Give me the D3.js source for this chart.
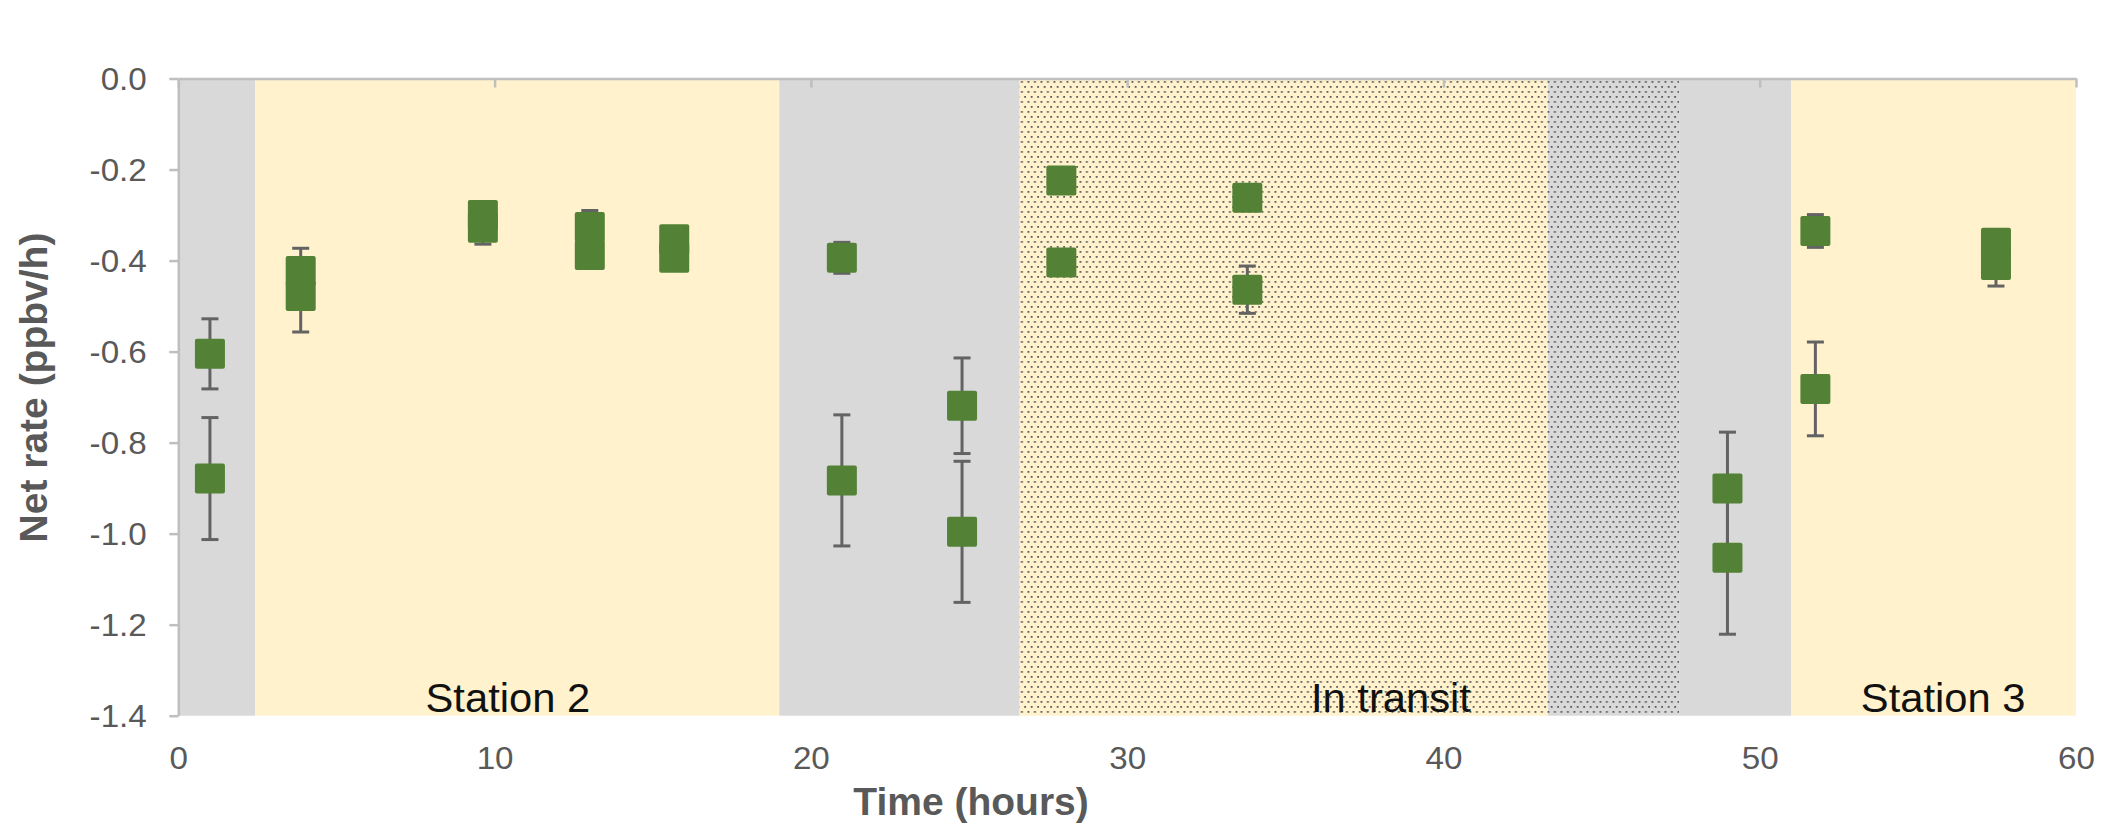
<!DOCTYPE html>
<html>
<head>
<meta charset="utf-8">
<script src="https://cdn.jsdelivr.net/npm/d3@7"></script>
<style>
    html, body { margin: 0; padding: 0; background: #ffffff; }
    svg text { font-family: "Liberation Sans", Arial, sans-serif; }
</style>
</head>
<body>
<div id="chart"></div>
<script>
// Shaded periods along the time axis (hours)
let bandStart = [0, 2.43, 19.0, 26.6, 43.3, 47.45, 51.0];
let bandEnd = [2.43, 19.0, 26.6, 43.3, 47.45, 51.0, 60];
let bandKind = ['gray', 'yellow', 'gray', 'yellowDots', 'grayDots', 'gray', 'yellow'];

let bandLabels = ['Station 2', 'In transit', 'Station 3'];
let bandLabelAt = [10.42, 38.34, 55.8];

// Measured net rates with their error bars
let times = [1.0, 1.0, 3.87, 3.87, 9.63, 9.63, 13.01, 13.01, 15.68, 15.68,
    20.98, 20.98, 24.78, 24.78, 27.92, 27.92, 33.8, 33.8,
    48.98, 48.98, 51.76, 51.76, 57.47, 57.47];
let rates = [-0.605, -0.879, -0.423, -0.478, -0.300, -0.328, -0.326, -0.388, -0.353, -0.394,
    -0.394, -0.883, -0.719, -0.996, -0.224, -0.404, -0.262, -0.464,
    -0.901, -1.053, -0.335, -0.682, -0.361, -0.410];
let errors = [0.077, 0.134, 0.050, 0.079, 0.020, 0.036, 0.036, 0.020, 0.020, 0.020,
    0.034, 0.144, 0.105, 0.155, 0.020, 0.020, 0.020, 0.052,
    0.124, 0.168, 0.036, 0.103, 0.020, 0.046];

let xTicks = [0, 10, 20, 30, 40, 50, 60];
let yTicks = [0, -0.2, -0.4, -0.6, -0.8, -1.0, -1.2, -1.4];

let width = 2103,
    height = 826;
let margin = {top: 78.5, right: 27, bottom: 110.3, left: 178.3};

let fills = {gray: '#d9d9d9', yellow: '#fff2cc', yellowDots: 'url(#dotsYellow)', grayDots: 'url(#dotsGray)'};
let labelGray = '#595959';
// The source picture is a little wider than tall, so tick labels get a slight stretch
let stretch = 1.07;

let svg = d3.select('#chart')
    .append('svg')
    .attr('width', width)
    .attr('height', height);

let x = d3.scaleLinear()
    .domain([0, 60])
    .range([margin.left, width - margin.right]);
let y = d3.scaleLinear()
    .domain([0, -1.4])
    .range([margin.top, height - margin.bottom]);

/**
 * Builds a small dotted fill pattern on top of a flat colour.
 */
function addDotPattern(defs, id, base) {
    let p = defs.append('pattern')
        .attr('id', id)
        .attr('patternUnits', 'userSpaceOnUse')
        .attr('width', 6.5)
        .attr('height', 10);
    p.append('rect').attr('width', 6.5).attr('height', 10).attr('fill', base);
    [[0.5, 1], [3.75, 6]].forEach(function(d) {
        p.append('rect')
            .attr('x', d[0]).attr('y', d[1])
            .attr('width', 1.8).attr('height', 1.8)
            .attr('fill', '#5a5a5a');
    });
}

let defs = svg.append('defs');
addDotPattern(defs, 'dotsYellow', '#fff2cc');
addDotPattern(defs, 'dotsGray', '#d9d9d9');

// Background periods
svg.append('g')
    .selectAll('rect')
    .data(bandStart)
    .enter()
    .append('rect')
        .attr('x', function(d) { return x(d); })
        .attr('y', y(0))
        .attr('width', function(d, i) { return x(bandEnd[i]) - x(d); })
        .attr('height', y(-1.4) - y(0))
        .attr('fill', function(d, i) { return fills[bandKind[i]]; });

svg.append('g')
    .selectAll('text')
    .data(bandLabels)
    .enter()
    .append('text')
        .attr('transform', function(d, i) {
            return 'translate(' + x(bandLabelAt[i]) + ',712) scale(1.03,1)';
        })
        .attr('text-anchor', 'middle')
        .attr('font-size', 40.5)
        .attr('fill', '#111111')
        .text(function(d) { return d; });

// Top line carries the x ticks, pointing into the plot
let topAxis = svg.append('g')
    .attr('transform', 'translate(0,' + y(0) + ')')
    .call(d3.axisTop(x).tickValues(xTicks).tickSize(-9).tickSizeOuter(0).tickFormat(''));
topAxis.selectAll('path, line').attr('stroke', '#bfbfbf').attr('stroke-width', 2.5);

// Tick labels sit below the plot
let bottomAxis = svg.append('g')
    .attr('transform', 'translate(0,' + y(-1.4) + ')')
    .call(d3.axisBottom(x).tickValues(xTicks).tickSize(0).tickPadding(31.3));
bottomAxis.select('.domain').remove();
bottomAxis.selectAll('text')
    .attr('font-size', 31)
    .attr('fill', labelGray)
    .attr('transform', 'scale(' + stretch + ',1)')
    .attr('font-family', '"Liberation Sans", Arial, sans-serif');

let leftAxis = svg.append('g')
    .attr('transform', 'translate(' + x(0) + ',0)')
    .call(d3.axisLeft(y).tickValues(yTicks).tickSize(9).tickSizeOuter(0).tickPadding(20.5)
        .tickFormat(function(d) { return d.toFixed(1); }));
leftAxis.selectAll('path, line').attr('stroke', '#bfbfbf').attr('stroke-width', 2.5);
leftAxis.selectAll('text')
    .attr('font-size', 31)
    .attr('fill', labelGray)
    .attr('dy', '0.36em')
    .attr('transform', 'scale(' + stretch + ',1)')
    .attr('font-family', '"Liberation Sans", Arial, sans-serif');

// Error bars
let capHalf = 8.5;
let bars = svg.append('g')
    .attr('stroke', '#636363')
    .attr('stroke-width', 3)
    .selectAll('g')
    .data(rates)
    .enter()
    .append('g');
bars.append('line')
    .attr('x1', function(d, i) { return x(times[i]); })
    .attr('x2', function(d, i) { return x(times[i]); })
    .attr('y1', function(d, i) { return y(d + errors[i]); })
    .attr('y2', function(d, i) { return y(d - errors[i]); });
bars.append('line')
    .attr('x1', function(d, i) { return x(times[i]) - capHalf; })
    .attr('x2', function(d, i) { return x(times[i]) + capHalf; })
    .attr('y1', function(d, i) { return y(d + errors[i]); })
    .attr('y2', function(d, i) { return y(d + errors[i]); });
bars.append('line')
    .attr('x1', function(d, i) { return x(times[i]) - capHalf; })
    .attr('x2', function(d, i) { return x(times[i]) + capHalf; })
    .attr('y1', function(d, i) { return y(d - errors[i]); })
    .attr('y2', function(d, i) { return y(d - errors[i]); });

// Square markers
let markerSize = 30;
svg.append('g')
    .selectAll('rect')
    .data(rates)
    .enter()
    .append('rect')
        .attr('x', function(d, i) { return x(times[i]) - markerSize / 2; })
        .attr('y', function(d) { return y(d) - markerSize / 2; })
        .attr('width', markerSize)
        .attr('height', markerSize)
        .attr('rx', 2)
        .attr('fill', '#538135');

// Axis titles
svg.append('text')
    .attr('transform', 'translate(46.7,387.5) rotate(-90)')
    .attr('text-anchor', 'middle')
    .attr('font-size', 39)
    .attr('font-weight', 'bold')
    .attr('fill', labelGray)
    .text('Net rate (ppbv/h)');

svg.append('text')
    .attr('x', 971)
    .attr('y', 815)
    .attr('text-anchor', 'middle')
    .attr('font-size', 39)
    .attr('font-weight', 'bold')
    .attr('fill', labelGray)
    .text('Time (hours)');
</script>
</body>
</html>
